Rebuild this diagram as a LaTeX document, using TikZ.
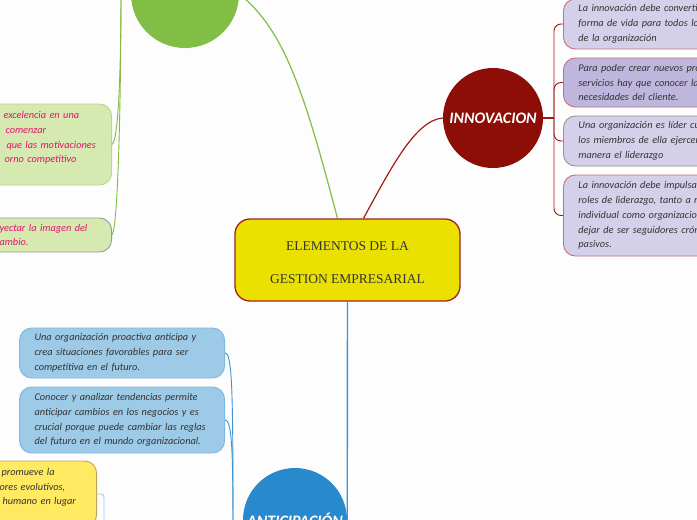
\documentclass[tikz,border=0pt]{standalone}
\usepackage{fontspec}
\setmainfont{Liberation Serif}
\newfontfamily\handfont{Carlito}
\usetikzlibrary{positioning}
\definecolor{PageBack}{HTML}{FDFDFD}
\definecolor{MapYellow}{HTML}{EBE100}
\definecolor{MapBorder}{HTML}{A3221C}
\definecolor{MapInk}{HTML}{333333}
\definecolor{LeafGreen}{HTML}{82BE46}
\definecolor{LeafGreenBack}{HTML}{D6E9B1}
\definecolor{LeafGreenEdge}{HTML}{B7D78F}
\definecolor{LeafPink}{HTML}{E3126C}
\definecolor{InnoRed}{HTML}{8C0E07}
\definecolor{InnoLine}{HTML}{9E1B14}
\definecolor{InnoBack}{HTML}{D5D0EA}
\definecolor{InnoBackDark}{HTML}{BEB6DC}
\definecolor{InnoEdge}{HTML}{C4707C}
\definecolor{AntiBlue}{HTML}{2889CC}
\definecolor{AntiBack}{HTML}{9DCAE6}
\definecolor{AntiEdge}{HTML}{7FB9E0}
\definecolor{AntiLine}{HTML}{3D93D3}
\definecolor{AntiThin}{HTML}{9CCBEA}
\definecolor{NoteYellow}{HTML}{FFEA62}
\definecolor{NoteEdge}{HTML}{BBA757}
\tikzset{topic/.style={draw=MapBorder,line width=1.3pt,fill=MapYellow,rounded corners=15pt,
 minimum width=225pt,minimum height=82pt,align=center,text=MapInk,
 font=\fontsize{13.5}{33}\selectfont},
 hub/.style={circle,inner sep=0pt,text=white,font=\handfont\bfseries\itshape\fontsize{16}{18}\selectfont},
 leaf/.style={rounded corners=12pt,line width=0.9pt,inner xsep=15pt,inner ysep=0pt,align=left,
 text=MapInk,font=\handfont\itshape\fontsize{10.3}{14.8}\selectfont},
 inno/.style={leaf,draw=InnoEdge,fill=InnoBack,anchor=west,text width=200pt},
 anti/.style={leaf,draw=AntiEdge,fill=AntiBack,anchor=east,text width=175pt},
 grleaf/.style={leaf,draw=LeafGreenEdge,fill=LeafGreenBack,anchor=east,text width=97pt,text=LeafPink},
 note/.style={leaf,draw=NoteEdge,fill=NoteYellow,anchor=east,text width=82pt},
 grnline/.style={draw=LeafGreen,line width=1.2pt},
 redline/.style={draw=InnoLine,line width=1.2pt},
 blueline/.style={draw=AntiLine,line width=1.4pt}}

\begin{document}
\begin{tikzpicture}[x=1pt,y=-1pt]
\fill[PageBack] (0,0) rectangle (697,520);
\useasboundingbox (0,0) rectangle (697,520);
% central topic and main branches
\node[topic] (ctr) at (347.5,260) {\rule{0pt}{14pt}ELEMENTOS DE LA\\GESTION EMPRESARIAL};
\node[hub,fill=LeafGreen,minimum size=108pt] (grn) at (185,-6) {};
\node[hub,fill=InnoRed,minimum size=100pt] (inn) at (493,118) {INNOVACION};
\node[hub,fill=AntiBlue,minimum size=104pt] (ant) at (295,520) {ANTICIPACIÓN};
% innovacion
\node[inno] (pb1) at (563,24) [minimum height=50pt] {La innovación debe convertirse\\forma de vida para todos los\\de la organización};
\node[inno,fill=InnoBackDark] (pb2) at (563,82.5) [minimum height=49pt] {Para poder crear nuevos productos y\\servicios hay que conocer las\\necesidades del cliente.};
\node[inno,draw=gray!85] (pb3) at (563,141) [minimum height=50pt] {Una organización es líder cuando\\los miembros de ella ejercen\\manera el liderazgo};
\node[inno] (pb4) at (563,215.5) [minimum height=81pt] {La innovación debe impulsar\\roles de liderazgo, tanto a nivel\\individual como organizacional\\dejar de ser seguidores crónicos\\pasivos.};
% anticipacion
\node[anti] (ab1) at (225,353) [minimum height=50pt] {Una organización proactiva anticipa y\\crea situaciones favorables para ser\\competitiva en el futuro.};
\node[anti] (ab2) at (225,420) [minimum height=66pt] {Conocer y analizar tendencias permite\\anticipar cambios en los negocios y es\\crucial porque puede cambiar las reglas\\del futuro en el mundo organizacional.};
\node[note] (yb) at (97,494) [minimum height=66pt] {\hspace*{2pt}promueve la\\ores evolutivos,\\\hspace*{3pt}humano en lugar\\\mbox{}};
% green side
\node[grleaf] (gb1) at (112,144.5) [minimum height=81pt] {\hspace*{4pt}excelencia en una\\\hspace*{6pt}comenzar\\\hspace*{7pt}que las motivaciones\\\hspace*{5pt}orno competitivo\\\mbox{}};
\node[grleaf,draw=gray!80] (gb2) at (112,235) [minimum height=34pt] {yectar la imagen del\\ambio.};
% connectors
\coordinate (gtop) at (121,-12);
\coordinate (ibr) at (554,118);
\coordinate (abot) at (233,560);
\coordinate (ylow) at (104,560);
\draw[grnline] ([xshift=-10pt]ctr.north) .. controls (305,95) and (285,30) .. (grn.east);
\draw[grnline,line width=0.9pt] (gtop) .. controls (121,60) and (119,140) .. (gb1.east);
\draw[grnline,line width=0.9pt] (gtop) .. controls (121,100) and (118,228) .. (gb2.east);
\draw[redline] ([xshift=16pt]ctr.north) .. controls (390,170) and (415,120) .. (inn.west);
\draw[redline] (inn.east) -- (ibr);
\foreach \b in {pb1,pb2,pb3,pb4}
 \draw[redline,line width=0.9pt,rounded corners=7pt] (ibr) |- (\b.west);
\draw[blueline] (ctr.south) -- (ant.east);
\draw[blueline,line width=0.9pt] (ab1.east) .. controls (233,353) and (233,400) .. (abot);
\draw[blueline,line width=0.9pt] (ab2.east) .. controls (233,420) and (233,460) .. (abot);
\draw[draw=AntiThin,line width=0.9pt,rounded corners=3pt] (yb.east) -| (ylow);
\end{tikzpicture}
\end{document}
